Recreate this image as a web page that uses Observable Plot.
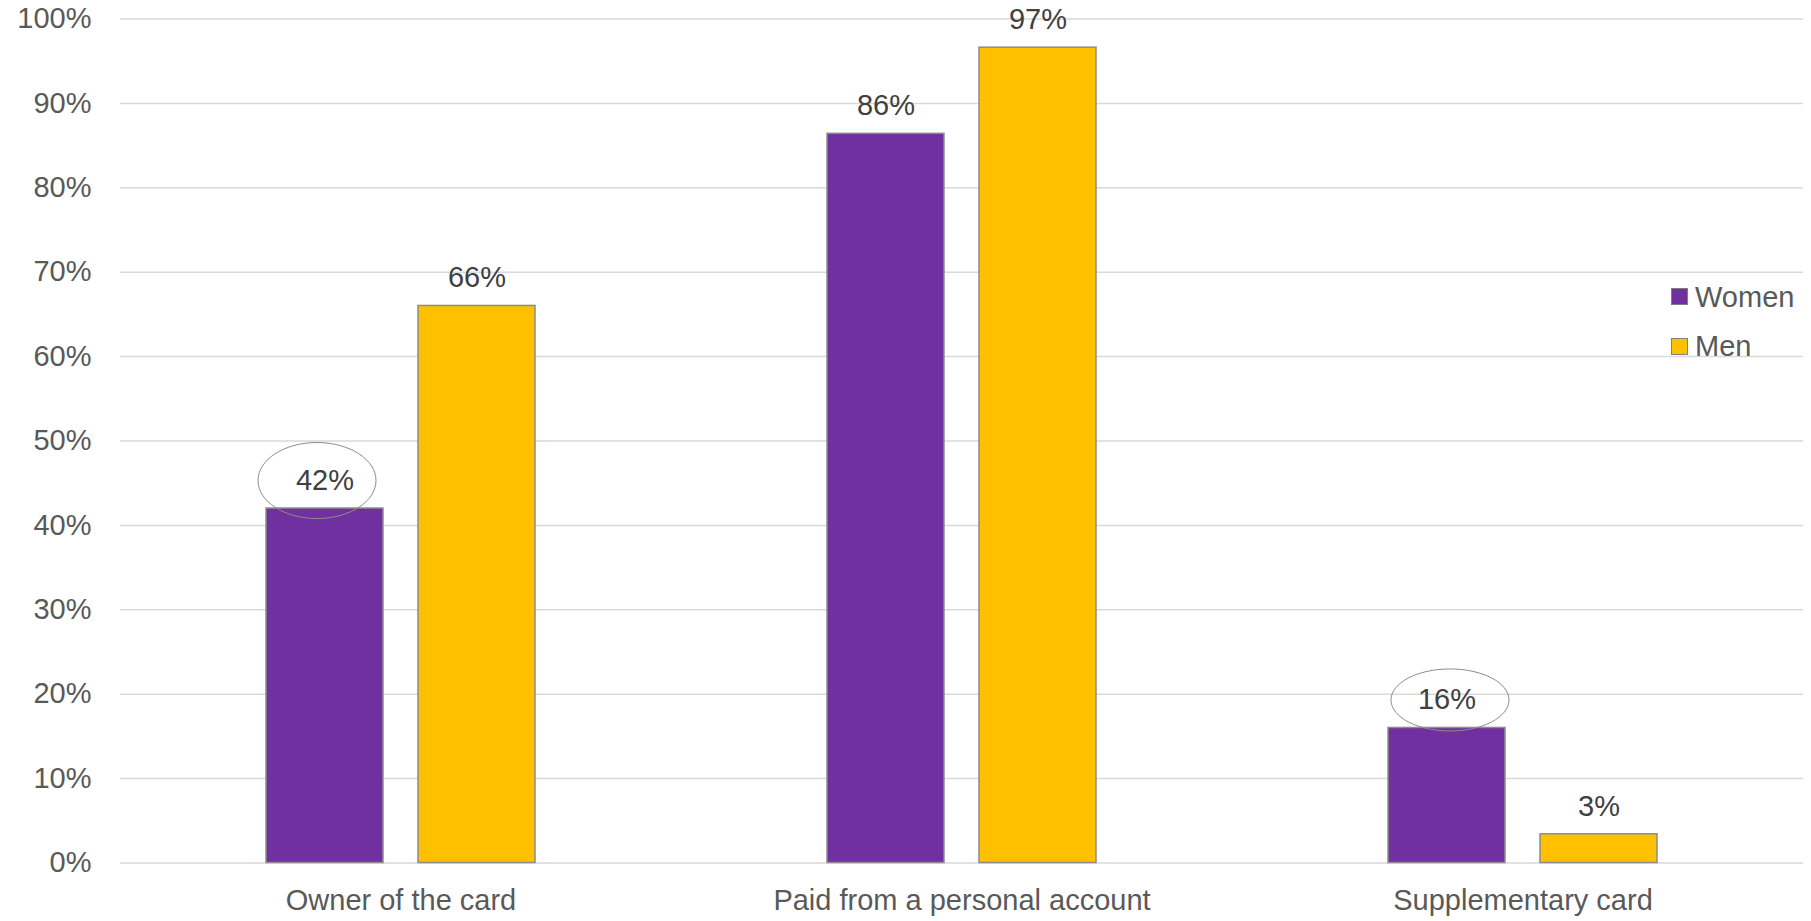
<!DOCTYPE html>
<html><head><meta charset="utf-8">
<script src="https://cdn.jsdelivr.net/npm/d3@7"></script>
<script src="https://cdn.jsdelivr.net/npm/@observablehq/plot@0.6"></script>
<style>
body{margin:0;background:#fff;}
#wrap{position:relative;width:1811px;height:921px;font-family:"Liberation Sans",Arial,sans-serif;}
#wrap svg{display:block;}
.sw{position:absolute;width:15px;height:15px;border:1px solid #7f7f7f;}
.lt{position:absolute;font-size:29px;line-height:29px;color:#595959;white-space:nowrap;}
</style></head><body><div id="wrap"></div>
<script>
const categories = ["Owner of the card", "Paid from a personal account", "Supplementary card"];
const series = ["Women", "Men"];
const women = [42, 86.4, 16];
const men = [66, 96.6, 3.4];
const yTicks = [0, 10, 20, 30, 40, 50, 60, 70, 80, 90, 100];
const circledTall = ["Owner of the card"];     // women label circled (taller ellipse)
const circledShort = ["Supplementary card"];   // women label circled (shorter ellipse)

const data = categories.flatMap((c, i) => [
  {category: c, gender: series[0], value: women[i]},
  {category: c, gender: series[1], value: men[i]}
]);

function ellipse(rx, ry) {
  const k = 0.5523;
  return {draw(ctx) {
    ctx.moveTo(rx, 0);
    ctx.bezierCurveTo(rx, k * ry, k * rx, ry, 0, ry);
    ctx.bezierCurveTo(-k * rx, ry, -rx, k * ry, -rx, 0);
    ctx.bezierCurveTo(-rx, -k * ry, -k * rx, -ry, 0, -ry);
    ctx.bezierCurveTo(k * rx, -ry, rx, -k * ry, rx, 0);
    ctx.closePath();
  }};
}

const font = '"Liberation Sans", Arial, sans-serif';
const chart = Plot.plot({
  width: 1811, height: 921,
  marginTop: 18.5, marginBottom: 58.5, marginLeft: 120, marginRight: 8,
  style: {fontFamily: font, fontSize: "29px", color: "#595959", background: "white"},
  fx: {domain: categories, padding: 0, label: null},
  x: {domain: series, paddingInner: 0.23, paddingOuter: 0.96, axis: null},
  y: {domain: [0, 100], label: null},
  color: {domain: series, range: ["#7030A0", "#FFC000"]},
  marks: [
    Plot.gridY(yTicks, {stroke: "#d9d9d9", strokeOpacity: 1, strokeWidth: 1.5}),
    Plot.axisY(yTicks, {tickSize: 0, tickPadding: 29, tickFormat: d => d + "%", label: null, fontSize: 29, fill: "#595959"}),
    Plot.axisFx({anchor: "bottom", tickSize: 0, tickPadding: 26.5, label: null, fontSize: 29, fill: "#595959"}),
    Plot.barY(data, {fx: "category", x: "gender", y: "value", fill: "gender", stroke: "#8c8c8c", strokeWidth: 1.5}),
    Plot.text(data, {fx: "category", x: "gender", y: "value", text: d => Math.round(d.value) + "%", dy: -28, lineAnchor: "middle", fill: "#404040", fontSize: 29}),
    Plot.dot(data.filter(d => d.gender === series[0] && circledTall.includes(d.category)),
      {fx: "category", x: "gender", y: "value", dx: -8, dy: -28, symbol: ellipse(59, 38), fill: "none", stroke: "#8c8c8c", strokeWidth: 1}),
    Plot.dot(data.filter(d => d.gender === series[0] && circledShort.includes(d.category)),
      {fx: "category", x: "gender", y: "value", dx: 3, dy: -28, symbol: ellipse(59, 31), fill: "none", stroke: "#8c8c8c", strokeWidth: 1})
  ]
});

const wrap = document.getElementById("wrap");
wrap.appendChild(chart);

const colorScale = chart.scale("color");
series.forEach((s, i) => {
  const sw = document.createElement("div");
  sw.className = "sw";
  sw.style.left = "1671px";
  sw.style.top = (288 + i * 50) + "px";
  sw.style.background = colorScale.range[i];
  wrap.appendChild(sw);
  const t = document.createElement("div");
  t.className = "lt";
  t.style.left = "1695px";
  t.style.top = (282.5 + i * 49) + "px";
  t.textContent = s;
  wrap.appendChild(t);
});
</script></body></html>
